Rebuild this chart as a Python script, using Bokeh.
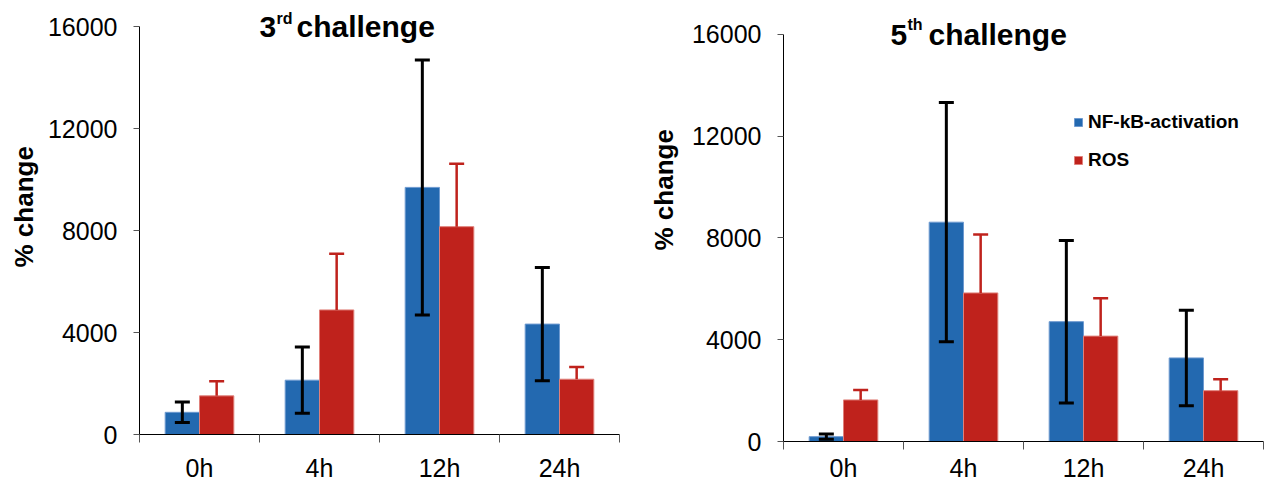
import math
import numpy as np
from bokeh.plotting import figure
from bokeh.layouts import row
from bokeh.models import (ColumnDataSource, Range1d, FixedTicker, Whisker, TeeHead,
                          Label, NumeralTickFormatter, Title)
from bokeh.embed import file_html
from bokeh.resources import INLINE

# ---------------- data ----------------
categories = ["0h", "4h", "12h", "24h"]
y_ticks = [0, 4000, 8000, 12000, 16000]
series_names = ["NF-kB-activation", "ROS"]

nf_3rd = [870, 2130, 9690, 4330]
nf_3rd_err = [400, 1300, 5000, 2220]
ros_3rd = [1515, 4885, 8150, 2168]
ros_3rd_err = [575, 2207, 2469, 483]

nf_5th = [190, 8620, 4710, 3285]
nf_5th_err = [105, 4700, 3195, 1875]
ros_5th = [1634, 5839, 4142, 1998]
ros_5th_err = [392, 2300, 1489, 447]

BLUE = "#2369B0"
RED = "#BF221C"
FONT = "Liberation Sans"


def make_panel(nf, nf_err, ros, ros_err, width, height, left, right, axis_top, bottom,
               title_parts, ylabel_offset, ylabel_standoff, legend=False,
               x_standoff=16):
    # frame reaches the top of the canvas; the axis itself is bounded to 0..16000
    frame_h = height - bottom
    axis_h = frame_h - axis_top
    y_end = y_ticks[-1] * frame_h / axis_h
    p = figure(width=width, height=height, output_backend="svg", toolbar_location=None,
               title=None, x_range=Range1d(0, 2 * len(categories)),
               y_range=Range1d(y_ticks[0], y_end),
               min_border_left=left, min_border_right=right,
               min_border_top=0, min_border_bottom=bottom)
    p.frame_align = False
    p.outline_line_color = None
    p.background_fill_color = "white"
    p.border_fill_color = "white"
    p.xgrid.visible = False
    p.ygrid.visible = False

    idx = np.arange(len(categories))
    centers = 2 * idx + 1.0
    bw = 0.572
    src = ColumnDataSource(dict(
        xb=centers - bw / 2, xr=centers + bw / 2,
        nf=nf, ros=ros,
        nf_lo=np.array(nf) - np.array(nf_err), nf_hi=np.array(nf) + np.array(nf_err),
        ros_hi=np.array(ros) + np.array(ros_err),
    ))
    kw_b = dict(legend_label=series_names[0]) if legend else {}
    kw_r = dict(legend_label=series_names[1]) if legend else {}
    p.vbar(x="xb", top="nf", bottom=0, width=bw, source=src, fill_color=BLUE,
           line_color="#6E9AD0", line_width=1, **kw_b)
    p.vbar(x="xr", top="ros", bottom=0, width=bw, source=src, fill_color=RED,
           line_color="#E0807A", line_width=1, **kw_r)

    wr = Whisker(base="xr", lower="ros", upper="ros_hi", source=src,
                 line_color=RED, line_width=2.5, level="annotation",
                 upper_head=TeeHead(size=15, line_color=RED, line_width=2.5),
                 lower_head=None)
    wb = Whisker(base="xb", lower="nf_lo", upper="nf_hi", source=src,
                 line_color="black", line_width=3, level="annotation",
                 upper_head=TeeHead(size=15, line_color="black", line_width=3),
                 lower_head=TeeHead(size=15, line_color="black", line_width=3))
    p.add_layout(wr)
    p.add_layout(wb)

    # axes
    yax = p.yaxis[0]
    yax.bounds = (y_ticks[0], y_ticks[-1])
    yax.ticker = FixedTicker(ticks=y_ticks, minor_ticks=[])
    yax.formatter = NumeralTickFormatter(format="0")
    yax.major_label_text_font = FONT
    yax.major_label_text_font_size = "25px"
    yax.major_label_text_color = "black"
    yax.major_tick_out = 6
    yax.major_tick_in = 0
    yax.major_tick_line_color = "#555555"
    yax.minor_tick_line_color = None
    yax.axis_line_color = "black"
    yax.major_label_standoff = 16

    xax = p.xaxis[0]
    xax.ticker = FixedTicker(ticks=list(centers),
                             minor_ticks=list(2 * np.arange(len(categories) + 1)))
    xax.major_label_overrides = {int(c): cat for c, cat in zip(centers, categories)}
    xax.major_label_text_font = FONT
    xax.major_label_text_font_size = "25px"
    xax.major_label_text_color = "black"
    xax.major_tick_out = 0
    xax.major_tick_in = 0
    xax.minor_tick_out = 8
    xax.minor_tick_in = 0
    xax.minor_tick_line_color = "#555555"
    xax.axis_line_color = "black"
    xax.major_label_standoff = x_standoff

    # y axis title (side title, anchored from the bottom of the frame)
    p.add_layout(Title(text="% change", align="left", vertical_align="top",
                       offset=ylabel_offset,
                       text_font=FONT, text_font_style="bold", text_font_size="26px",
                       text_color="black", standoff=ylabel_standoff), "left")

    # panel title with superscript
    for text, size, tx, ty in title_parts:
        p.add_layout(Label(x=tx, y=frame_h - ty, x_units="screen", y_units="screen",
                           text=text, text_align="left", text_baseline="alphabetic",
                           text_font=FONT, text_font_style="bold",
                           text_font_size=f"{size}px", text_color="black"))

    if legend:
        lg = p.legend[0]
        lg.location = (290, 270)
        lg.label_text_font = FONT
        lg.label_text_font_style = "bold"
        lg.label_text_font_size = "19px"
        lg.label_text_color = "black"
        lg.glyph_width = 10
        lg.glyph_height = 10
        lg.label_standoff = 5
        lg.label_height = 20
        lg.spacing = 16
        lg.padding = 0
        lg.margin = 0
        lg.border_line_color = None
        lg.background_fill_alpha = 0
    return p


# title parts: (text, font px, x from frame left, baseline px from canvas top)
p1 = make_panel(nf_3rd, nf_3rd_err, ros_3rd, ros_3rd_err, 640, 484, 139, 21, 26, 50,
                [("3", 30, 120, 26), ("rd", 16, 137, 18), ("challenge", 30, 157, 26)],
                167, 7, legend=False, x_standoff=11)
p2 = make_panel(nf_5th, nf_5th_err, ros_5th, ros_5th_err, 632, 484, 143, 9, 34, 42,
                [("5", 30, 107, 35), ("th", 16, 124, 25), ("challenge", 30, 145, 35)],
                191, 16, legend=True, x_standoff=4)

layout = row(p1, p2, spacing=0)
open("out.html", "w").write(file_html(layout, INLINE))
